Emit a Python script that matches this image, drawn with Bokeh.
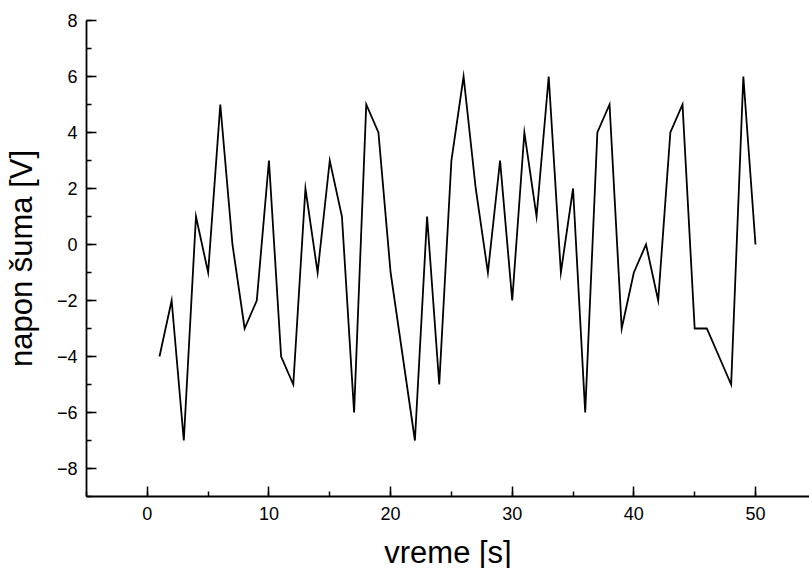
from bokeh.plotting import figure
from bokeh.models import Range1d, FixedTicker
from bokeh.embed import file_html
from bokeh.resources import INLINE

# data
time_s = list(range(1, 51))
noise_v = [-4, -2, -7, 1, -1, 5, 0, -3, -2, 3,
           -4, -5, 2, -1, 3, 1, -6, 5, 4, -1,
           -4, -7, 1, -5, 3, 6, 2, -1, 3, -2,
           4, 1, 6, -1, 2, -6, 4, 5, -3, -1,
           0, -2, 4, 5, -3, -3, -4, -5, 6, 0]
x_ticks = [0, 10, 20, 30, 40, 50]
y_ticks = [-8, -6, -4, -2, 0, 2, 4, 6, 8]

FONT = "Liberation Sans"

p = figure(frame_width=723, frame_height=476, output_backend="svg", toolbar_location=None,
           x_range=Range1d(-5, 54.44), y_range=Range1d(-9, 8),
           min_border_left=86, min_border_right=0, min_border_top=20,
           min_border_bottom=60)
p.outline_line_color = None
p.grid.visible = False
p.background_fill_color = "white"

p.line(time_s, noise_v, line_color="black", line_width=1.8, line_join="miter")

for ax in (p.xaxis[0], p.yaxis[0]):
    ax.axis_line_width = 1.8
    ax.axis_line_color = "black"
    ax.major_tick_in = 10
    ax.major_tick_out = 0
    ax.minor_tick_in = 5
    ax.minor_tick_out = 0
    ax.major_tick_line_width = 1.5
    ax.minor_tick_line_width = 1.5
    ax.major_tick_line_color = "black"
    ax.minor_tick_line_color = "black"
    ax.major_label_text_font = FONT
    ax.major_label_text_font_size = "18px"
    ax.major_label_text_color = "black"
    ax.axis_label_text_font = FONT
    ax.axis_label_text_font_size = "31px"
    ax.axis_label_text_font_style = "normal"
    ax.axis_label_text_color = "black"

p.xaxis.ticker = FixedTicker(ticks=x_ticks, minor_ticks=list(range(-5, 55, 5)))
p.yaxis.ticker = FixedTicker(ticks=y_ticks, minor_ticks=list(range(-9, 9)))
p.xaxis.axis_label = "vreme [s]"
p.yaxis.axis_label = "napon šuma [V]"
p.xaxis.major_label_standoff = 10
p.yaxis.major_label_standoff = 9
p.xaxis.axis_label_standoff = 12
p.yaxis.axis_label_standoff = 15

open("out.html", "w").write(file_html(p, INLINE))
